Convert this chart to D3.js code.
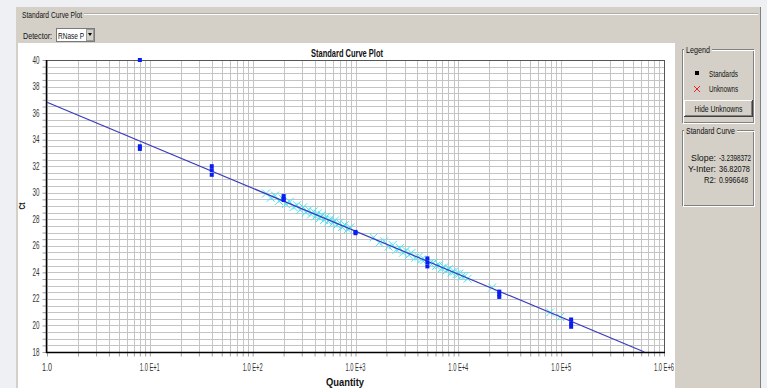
<!DOCTYPE html>
<html><head><meta charset="utf-8">
<script src="https://cdn.jsdelivr.net/npm/d3@7"></script>
<style>
html,body{margin:0;padding:0;background:#eef0f3;}
svg{display:block;font-family:"Liberation Sans",Arial,sans-serif;}
</style></head><body>
<svg id="c" width="767" height="388"></svg>
<script>
// ---- data ----
const xTickValues = [1, 10, 100, 1000, 10000, 100000, 1000000];
const xTickLabels = ["1.0", "1.0 E+1", "1.0 E+2", "1.0 E+3", "1.0 E+4", "1.0 E+5", "1.0 E+6"];
const yTickValues = [18, 20, 22, 24, 26, 28, 30, 32, 34, 36, 38, 40];

const stdQuantity = [8, 8, 8, 40, 40, 40, 200, 200, 200, 1000, 1000, 5000, 5000, 5000, 25000, 25000, 25000, 125000, 125000, 125000];
const stdCt       = [40.0, 33.5, 33.3, 32.0, 31.7, 31.35, 29.75, 29.55, 29.45, 27.05, 26.95, 25.05, 24.75, 24.45, 22.55, 22.35, 22.15, 20.45, 20.15, 19.9];

const unkQuantity = [135, 150, 165, 180, 195, 210, 230, 250, 270, 290, 310, 330, 350, 370, 390, 410, 430, 450, 470, 495, 520, 545, 570, 600, 630, 660, 700, 740, 790, 840, 890,
  1500, 1700, 1900, 2100, 2300, 2500, 2700, 2900, 3100, 3300, 3500, 3800, 4100, 4400, 4700, 5300, 5700, 6100, 6500, 6900, 7300, 7700, 8100, 8600, 9100, 9600, 10200, 10800, 11500, 12300,
  21300, 78000, 97700];
const unkCt = [29.95, 29.62, 29.78, 29.38, 29.56, 29.15, 29.32, 28.92, 29.06, 28.70, 28.90, 28.52, 28.72, 28.36, 28.58, 28.22, 28.44, 28.08, 28.32, 27.95, 28.18, 27.84, 28.04, 27.70, 27.90, 27.56, 27.74, 27.42, 27.56, 27.24, 27.38,
  26.64, 26.24, 26.34, 25.94, 26.06, 25.70, 25.84, 25.48, 25.64, 25.30, 25.46, 25.10, 25.16, 24.96, 24.94, 24.70, 24.72, 24.50, 24.54, 24.30, 24.38, 24.16, 24.24, 24.00, 24.06, 23.86, 23.90, 23.70, 23.72, 23.52,
  22.86, 20.98, 20.64];

const curveSlope = -3.2398372;
const curveIntercept = 36.82078;
const curveR2 = 0.996648;

// ---- helpers ----
const svg = d3.select("#c");
const panel = "#d4d0c8";
function T(parent, x, y, str, o = {}) {
  const t = parent.append("text").attr("x", x).attr("y", y).attr("font-size", o.size || 9).attr("fill", o.fill || "#111").text(str);
  if (o.weight) t.attr("font-weight", o.weight);
  const nat = t.node().getComputedTextLength();
  const tw = o.w != null ? o.w : nat * (o.f != null ? o.f : 1);
  t.attr("textLength", tw).attr("lengthAdjust", "spacingAndGlyphs");
  const a = o.anchor || "start";
  t.attr("x", a === "middle" ? x - tw / 2 : a === "end" ? x - tw : x);
  return t;
}

// window panel
svg.append("rect").attr("x", 16).attr("y", 7).attr("width", 745).attr("height", 381).attr("fill", panel);
svg.append("line").attr("x1", 760.5).attr("x2", 760.5).attr("y1", 7).attr("y2", 388).attr("stroke", "#808080");
svg.append("line").attr("x1", 84).attr("x2", 758).attr("y1", 14.5).attr("y2", 14.5).attr("stroke", "#ffffff");
svg.append("line").attr("x1", 84).attr("x2", 758).attr("y1", 13.5).attr("y2", 13.5).attr("stroke", "#b0aca4");
T(svg, 22, 18, "Standard Curve Plot", { w: 60 });
T(svg, 23, 39, "Detector:", { w: 29 });
// combobox
svg.append("rect").attr("x", 56.5).attr("y", 28.5).attr("width", 38).attr("height", 13).attr("fill", "#fff").attr("stroke", "#7a7a7a");
T(svg, 58, 39, "RNase P", { w: 26 });
svg.append("rect").attr("x", 86.5).attr("y", 29.5).attr("width", 7).attr("height", 11).attr("fill", panel).attr("stroke", "#9a9a9a");
svg.append("path").attr("d", "M88,33 L92,33 L90,36 Z").attr("fill", "#000");

// white chart area
svg.append("rect").attr("x", 18).attr("y", 43).attr("width", 657).attr("height", 345).attr("fill", "#ffffff");

const x = d3.scaleLog().domain([1, 1e6]).range([47, 664]);
const y = d3.scaleLinear().domain([18, 40]).range([352, 60]);

// grid
const minorX = [];
for (let d = 0; d < 6; d++) for (let m = 1; m <= 9; m++) minorX.push(m * Math.pow(10, d));
minorX.push(1e6);
const minorY = d3.range(18, 40.001, 0.5);
const grid = svg.append("g");
grid.selectAll("line.v").data(minorX).join("line")
  .attr("x1", d => Math.round(x(d)) + 0.5).attr("x2", d => Math.round(x(d)) + 0.5)
  .attr("y1", y(40)).attr("y2", y(18)).attr("stroke", "#c4c4c4");
grid.selectAll("line.h").data(minorY).join("line")
  .attr("x1", x(1)).attr("x2", x(1e6))
  .attr("y1", d => Math.round(y(d)) + 0.5).attr("y2", d => Math.round(y(d)) + 0.5).attr("stroke", "#c4c4c4");

// axes (tick marks)
const gx = svg.append("g").attr("transform", `translate(0,${y(18) + 0.5})`)
  .call(d3.axisBottom(x).tickValues(minorX).tickSize(4).tickSizeOuter(0).tickFormat(""));
gx.select(".domain").remove();
gx.selectAll(".tick line").attr("stroke", "#a0a0a0");
const gy = svg.append("g").attr("transform", `translate(${x(1) - 0.5},0)`)
  .call(d3.axisLeft(y).tickValues(minorY).tickSize(4).tickSizeOuter(0).tickFormat(""));
gy.select(".domain").remove();
gy.selectAll(".tick line").attr("stroke", "#a0a0a0");

// tick labels
xTickValues.forEach((v, i) => T(svg, x(v), 371, xTickLabels[i], { size: 10, anchor: "middle", w: i === 0 ? 10 : 20, fill: "#333" }));
yTickValues.forEach(v => T(svg, 39.5, y(v) + 3.5, String(v), { size: 10, anchor: "end", w: 7, fill: "#333" }));

// plot border
svg.append("line").attr("x1", x(1)).attr("x2", x(1e6)).attr("y1", y(40) + 0.5).attr("y2", y(40) + 0.5).attr("stroke", "#555");
svg.append("line").attr("x1", x(1e6) + 0.5).attr("x2", x(1e6) + 0.5).attr("y1", y(40)).attr("y2", y(18)).attr("stroke", "#555");
svg.append("line").attr("x1", x(1) - 0.5).attr("x2", x(1) - 0.5).attr("y1", y(40)).attr("y2", y(18) + 1).attr("stroke", "#000").attr("stroke-width", 1.5);
svg.append("line").attr("x1", x(1) - 1).attr("x2", x(1e6) + 1).attr("y1", y(18) + 0.5).attr("y2", y(18) + 0.5).attr("stroke", "#000").attr("stroke-width", 1.5);

// unknowns
const unk = d3.range(unkQuantity.length).map(i => [unkQuantity[i], unkCt[i]]);
const s = 4;
svg.append("g").selectAll("path").data(unk).join("path")
  .attr("d", d => { const px = x(d[0]), py = y(d[1]); return `M${px - s},${py - s}L${px + s},${py + s}M${px - s},${py + s}L${px + s},${py - s}`; })
  .attr("stroke", "#48e6f2").attr("stroke-width", 1).attr("fill", "none");

// fitted line
const qEnd = Math.pow(10, (18 - curveIntercept) / curveSlope);
const fit = [1, qEnd].map(q => [q, curveIntercept + curveSlope * Math.log10(q)]);
svg.append("path").datum(fit)
  .attr("d", d3.line().x(d => x(d[0])).y(d => y(d[1])))
  .attr("stroke", "#3a3abf").attr("stroke-width", 1.2).attr("fill", "none");

// standards
const std = d3.range(stdQuantity.length).map(i => [stdQuantity[i], stdCt[i]]);
svg.append("g").selectAll("rect").data(std).join("rect")
  .attr("x", d => x(d[0]) - 2).attr("y", d => y(d[1]) - 2).attr("width", 4).attr("height", 4)
  .attr("fill", "#0a1ef0");

// titles
T(svg, 347, 57, "Standard Curve Plot", { size: 11.5, weight: "bold", anchor: "middle", w: 72 });
T(svg, 345, 386, "Quantity", { size: 10, weight: "bold", anchor: "middle", w: 38 });
T(svg.append("g").attr("transform", "translate(25,206) rotate(-90)"), 0, 0, "Ct", { size: 9, weight: "bold", anchor: "middle", w: 7 });

// right panel
function groupBox(x0, y0, w, h, title, tw) {
  const g = svg.append("g");
  g.append("rect").attr("x", x0 + 0.5).attr("y", y0 + 0.5).attr("width", w).attr("height", h).attr("fill", "none").attr("stroke", "#808080");
  g.append("rect").attr("x", x0 + 1.5).attr("y", y0 + 1.5).attr("width", w).attr("height", h).attr("fill", "none").attr("stroke", "#ffffff");
  g.append("rect").attr("x", x0 + 2).attr("y", y0 - 1).attr("width", tw + 4).attr("height", 5).attr("fill", panel);
  T(g, x0 + 4, y0 + 3.5, title, { w: tw });
  return g;
}
groupBox(682, 49, 71, 73, "Legend", 24);
svg.append("rect").attr("x", 695).attr("y", 71).attr("width", 4).attr("height", 4).attr("fill", "#000");
T(svg, 709, 77, "Standards", { w: 29 });
svg.append("path").attr("d", "M694,86L700,92M694,92L700,86").attr("stroke", "#e8202a").attr("stroke-width", 1);
T(svg, 709, 92, "Unknowns", { w: 29 });
// button
svg.append("rect").attr("x", 684).attr("y", 100).attr("width", 69).attr("height", 17).attr("fill", "#404040");
svg.append("rect").attr("x", 684).attr("y", 100).attr("width", 68).attr("height", 16).attr("fill", "#ffffff");
svg.append("rect").attr("x", 685).attr("y", 101).attr("width", 67).attr("height", 15).attr("fill", "#808080");
svg.append("rect").attr("x", 685).attr("y", 101).attr("width", 66).attr("height", 14).attr("fill", panel);
T(svg, 718.5, 112, "Hide Unknowns", { anchor: "middle", w: 48 });

groupBox(682, 130, 71, 75, "Standard Curve", 49);
const statLabels = ["Slope:", "Y-Inter:", "R2:"];
const statValues = [String(curveSlope), String(curveIntercept), String(curveR2)];
const statLabelW = [25, 28, 12];
const statValueW = [32, 31, 29];
statLabels.forEach((l, i) => {
  T(svg, 716, 161 + i * 11, l, { anchor: "end", w: statLabelW[i] });
  T(svg, 719, 161 + i * 11, statValues[i], { w: statValueW[i] });
});
</script>
</body></html>
